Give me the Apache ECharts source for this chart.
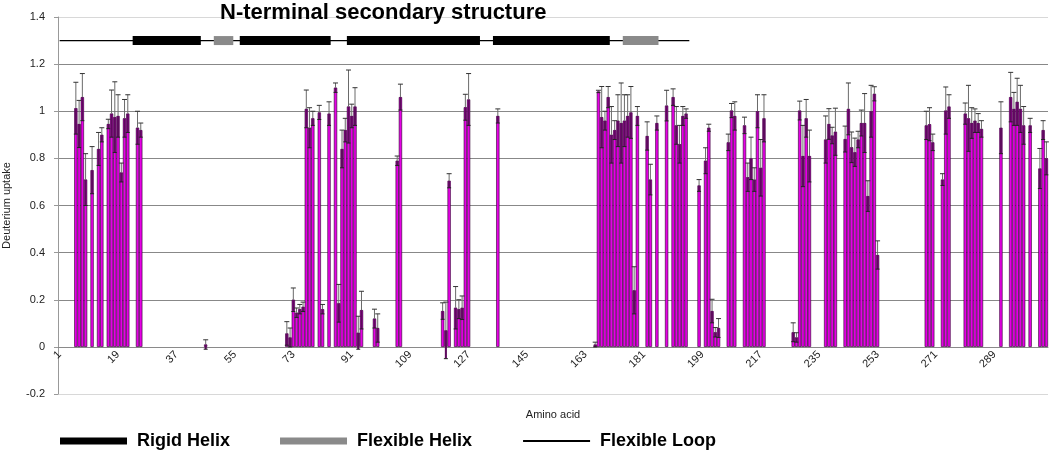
<!DOCTYPE html>
<html>
<head>
<meta charset="utf-8">
<script src="https://cdn.jsdelivr.net/npm/echarts@6/dist/echarts.min.js"></script>
<style>
html, body { margin: 0; padding: 0; background: #fff; }
#chart { width: 1050px; height: 453px; }
</style>
</head>
<body>
<div id="chart"></div>
<script>
// residues that have a measured value (1-based amino acid number)
var residues = [
  6, 7, 8, 9, 11, 13, 14, 16, 17, 18, 19, 20, 21, 22, 25, 26,
  46,
  71, 72, 73, 74, 75, 76, 77, 78, 79, 81, 82, 84, 86, 87, 88, 89, 90, 91, 92, 93, 94, 98, 99,
  105, 106, 119, 120, 121, 123, 124, 125, 126, 127, 136,
  166, 167, 168, 169, 170, 171, 172, 173, 174, 175, 176, 177, 178, 179,
  182, 183, 185, 188, 190, 191, 192, 193, 194, 198,
  200, 201, 202, 203, 204, 207, 208, 209, 212, 213, 214, 215, 216, 217, 218,
  227, 228, 229, 230, 231, 232, 237, 238, 239, 240,
  243, 244, 245, 246, 247, 248, 249, 250, 251, 252, 253,
  268, 269, 270, 273, 274, 275, 280, 281, 282, 283, 284, 285,
  291, 294, 295, 296, 297, 298, 300, 303, 304, 305
];
var uptake = [
  1.013, 0.946, 1.06, 0.71, 0.75, 0.84, 0.90, 0.946, 0.99, 0.975, 0.98, 0.74, 0.97, 0.99, 0.93, 0.92,
  0.01,
  0.057, 0.04, 0.20, 0.145, 0.16, 0.17, 1.01, 0.93, 0.97, 0.995, 0.16, 0.99, 1.10, 0.185, 0.84, 0.92, 1.02, 0.98, 1.02, 0.06, 0.156, 0.12, 0.08,
  0.79, 1.06, 0.152, 0.07, 0.705, 0.166, 0.16, 0.166, 1.017, 1.05, 0.98,
  0.01, 1.084, 0.975, 0.96, 1.06, 0.90, 0.92, 0.96, 0.95, 0.96, 0.98, 0.995, 0.24, 0.98,
  0.895, 0.71, 0.95, 1.024, 1.06, 0.94, 0.86, 0.98, 0.99, 0.685,
  0.79, 0.93, 0.152, 0.062, 0.08, 0.868, 1.003, 0.98, 0.94, 0.72, 0.80, 0.71, 1.00, 0.76, 0.97,
  0.062, 0.04, 1.003, 0.81, 0.97, 0.81, 0.88, 0.946, 0.897, 0.913,
  0.882, 1.01, 0.847, 0.826, 0.88, 0.95, 0.95, 0.64, 1.00, 1.074, 0.39,
  0.94, 0.945, 0.868, 0.71, 1.003, 1.02, 0.99, 0.97, 0.95, 0.96, 0.95, 0.925,
  0.93, 1.06, 1.01, 1.04, 1.01, 0.94, 0.94, 0.757, 0.92, 0.80
];
var uptakeErr = [
  0.11, 0.10, 0.10, 0.11, 0.10, 0.07, 0.03, 0.02, 0.10, 0.15, 0.09, 0.04, 0.08, 0.08, 0.07, 0.03,
  0.02,
  0.05, 0.04, 0.05, 0.02, 0.02, 0.02, 0.08, 0.085, 0.03, 0.03, 0.02, 0.05, 0.02, 0.08, 0.08, 0.05, 0.155, 0.05, 0.08, 0.07, 0.08, 0.04, 0.06,
  0.02, 0.055, 0.035, 0.12, 0.03, 0.09, 0.04, 0.05, 0.055, 0.11, 0.03,
  0.01, 0.005, 0.13, 0.04, 0.045, 0.12, 0.04, 0.11, 0.17, 0.11, 0.09, 0.11, 0.10, 0.04,
  0.06, 0.065, 0.03, 0.065, 0.035, 0.08, 0.08, 0.04, 0.02, 0.025,
  0.055, 0.015, 0.05, 0.02, 0.04, 0.035, 0.03, 0.06, 0.035, 0.06, 0.09, 0.05, 0.07, 0.12, 0.10,
  0.04, 0.02, 0.04, 0.13, 0.08, 0.11, 0.10, 0.065, 0.035, 0.10,
  0.055, 0.11, 0.065, 0.06, 0.035, 0.055, 0.125, 0.065, 0.11, 0.03, 0.06,
  0.06, 0.07, 0.035, 0.025, 0.10, 0.05, 0.045, 0.14, 0.065, 0.05, 0.04, 0.035,
  0.11, 0.105, 0.07, 0.10, 0.10, 0.08, 0.03, 0.085, 0.04, 0.07
];
var residueCount = 305;
var labelStep = 18;
var yMin = -0.2, yMax = 1.4;

// N-terminal secondary structure, residue ranges
var rigidHelix = [[24, 44], [57, 84], [90, 130], [135, 170]];
var flexibleHelix = [[49, 54], [175, 185]];
var flexibleLoop = [[1, 195]];
var structureLevel = 1.3;

var categories = [];
var barData = [];
for (var i = 1; i <= residueCount; i++) {
  categories.push(String(i));
  barData.push('-');
}
var errData = [];
residues.forEach(function (r, j) {
  barData[r - 1] = uptake[j];
  errData.push([r - 1, uptake[j], uptakeErr[j]]);
});

function renderError(params, api) {
  var idx = api.value(0), v = api.value(1), e = api.value(2);
  var top = api.coord([idx, v + e]);
  var mid = api.coord([idx, v]);
  var low = api.coord([idx, v - e]);
  var bw = api.size([1, 0])[0];
  var x = mid[0];
  return {
    type: 'group',
    children: [
      { type: 'rect', shape: { x: x - bw * 0.32, y: mid[1], width: bw * 0.64, height: low[1] - mid[1] },
        style: { fill: '#5e0a5e' } },
      { type: 'line', shape: { x1: x, y1: mid[1], x2: x, y2: top[1] },
        style: { stroke: '#6a6a6a', lineWidth: 1 } },
      { type: 'line', shape: { x1: x - 2.5, y1: top[1], x2: x + 2.5, y2: top[1] },
        style: { stroke: '#333', lineWidth: 1 } },
      { type: 'line', shape: { x1: x - 2, y1: low[1], x2: x + 2, y2: low[1] },
        style: { stroke: '#222', lineWidth: 1 } }
    ]
  };
}

function segmentRenderer(color) {
  return function (params, api) {
    var a = api.coord([api.value(0) - 1, structureLevel]);
    var b = api.coord([api.value(1) - 1, structureLevel]);
    var bw = api.size([1, 0])[0];
    return {
      type: 'rect',
      shape: { x: a[0] - bw / 2, y: a[1] - 4.5, width: b[0] - a[0] + bw, height: 9 },
      style: { fill: color }
    };
  };
}

var loopData = [];
flexibleLoop.forEach(function (s) {
  loopData.push([s[0] - 1, structureLevel], [s[1] - 1, structureLevel], '-');
});

var gridColors = ['#d8d8d8', '#888', '#888', '#888', '#888', '#888', '#888', '#888', '#d8d8d8'];

var gridTop = 17, gridBottom = 59, chartHeight = 453;
// lift the category axis up to the zero line
var zeroOffset = -(chartHeight - gridTop - gridBottom) * (0 - yMin) / (yMax - yMin);

var chart = echarts.init(document.getElementById('chart'));
chart.setOption({
  animation: false,
  textStyle: { fontFamily: '"Liberation Sans", Arial, sans-serif' },
  title: {
    text: 'N-terminal secondary structure',
    left: 215, top: -3,
    textStyle: { fontSize: 22, fontWeight: 'bold', color: '#000' }
  },
  grid: { left: 58, right: 2, top: gridTop, bottom: gridBottom, containLabel: false, outerBoundsMode: 'none' },
  legend: {
    left: 55, top: 427,
    itemWidth: 67, itemHeight: 7, itemGap: 50,
    selectedMode: false,
    textStyle: { fontSize: 18, fontWeight: 'bold', color: '#000', padding: [0, 0, 0, 5] },
    data: [
      { name: 'Rigid Helix', icon: 'rect' },
      { name: 'Flexible Helix', icon: 'rect' },
      { name: 'Flexible Loop', itemStyle: { opacity: 0 } }
    ]
  },
  xAxis: {
    type: 'category',
    data: categories,
    offset: zeroOffset,
    name: 'Amino acid',
    nameLocation: 'middle',
    nameGap: 63,
    nameTextStyle: { fontSize: 11, color: '#222' },
    axisLine: { onZero: false, lineStyle: { color: '#8a8a8a' } },
    axisTick: { interval: 0, length: 3, lineStyle: { color: '#999' } },
    axisLabel: {
      interval: function (index) { return index % labelStep === 0; },
      rotate: 45, fontSize: 11, color: '#222', margin: 6
    },
    splitLine: { show: false }
  },
  yAxis: {
    type: 'value',
    min: yMin, max: yMax, interval: 0.2,
    name: 'Deuterium uptake',
    nameLocation: 'middle',
    nameGap: 46,
    nameTextStyle: { fontSize: 11, color: '#222' },
    axisLine: { show: true, lineStyle: { color: '#999' } },
    axisTick: { show: true, length: 4, lineStyle: { color: '#999' } },
    axisLabel: { fontSize: 11, color: '#222', margin: 13 },
    splitLine: { lineStyle: { color: gridColors, width: 1 } }
  },
  series: [
    {
      name: 'uptake',
      type: 'bar',
      data: barData,
      barCategoryGap: '0%',
      itemStyle: { color: '#e600e6', borderColor: '#2b002b', borderWidth: 0.6 },
      z: 2
    },
    {
      name: 'error',
      type: 'custom',
      data: errData,
      renderItem: renderError,
      z: 3
    },
    {
      name: 'Flexible Loop',
      type: 'line',
      data: loopData,
      symbol: 'none',
      color: '#000',
      lineStyle: { color: '#000', width: 1.2 },
      z: 4
    },
    {
      name: 'Rigid Helix',
      type: 'custom',
      data: rigidHelix,
      color: '#000',
      renderItem: segmentRenderer('#000'),
      z: 5
    },
    {
      name: 'Flexible Helix',
      type: 'custom',
      data: flexibleHelix,
      color: '#8a8a8a',
      renderItem: segmentRenderer('#8a8a8a'),
      z: 5
    }
  ]
});
</script>
</body>
</html>
